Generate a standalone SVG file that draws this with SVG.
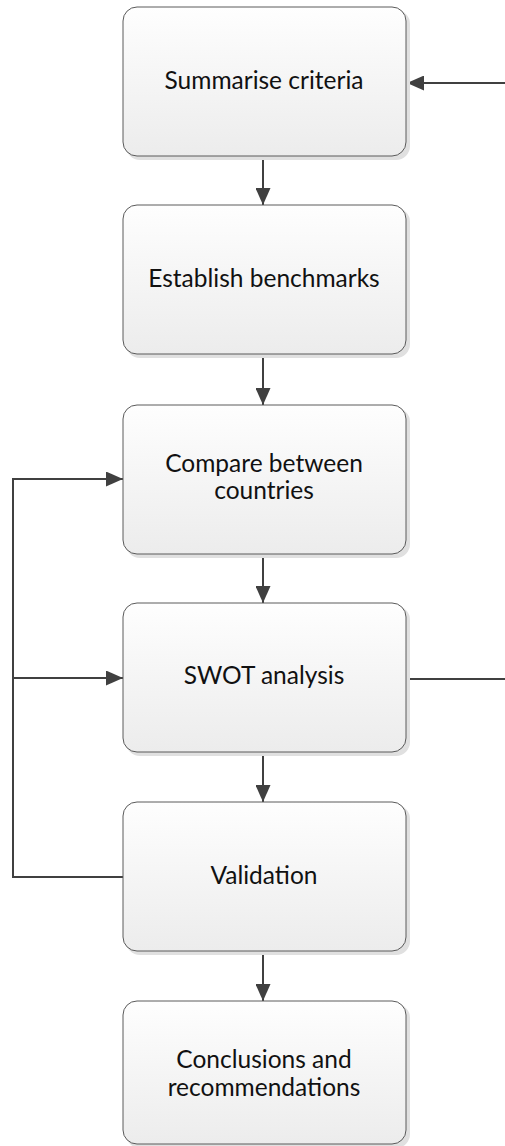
<svg xmlns="http://www.w3.org/2000/svg" width="505" height="1146" viewBox="0 0 505 1146">
  <style>
    .shadow { fill: #e0e0e0; }
    .box { fill: url(#boxFill); stroke: #5a5a5a; stroke-width: 1; }
    .label { font-family: Lato, "Open Sans", "Liberation Sans", sans-serif; font-size: 24.5px; fill: #111; text-anchor: middle; }
    .conn { fill: none; stroke: #404040; stroke-width: 2; }
  </style>
  <defs>
    <linearGradient id="boxFill" x1="0" y1="0" x2="0" y2="1">
      <stop offset="0" stop-color="#fefefe"/>
      <stop offset="1" stop-color="#ececec"/>
    </linearGradient>
    <marker id="arrow" markerUnits="userSpaceOnUse" markerWidth="17" markerHeight="15" refX="17" refY="7.5" orient="auto">
      <path d="M0,0 L17,7.5 L0,15 Z" fill="#404040"/>
    </marker>
  </defs>
  <rect width="505" height="1146" fill="#ffffff"/>

  <g id="connectors">
    <path class="conn" d="M505,83 L407,83" marker-end="url(#arrow)"/>
    <path class="conn" d="M263,156 L263,205" marker-end="url(#arrow)"/>
    <path class="conn" d="M263,354 L263,405" marker-end="url(#arrow)"/>
    <path class="conn" d="M263,554 L263,603" marker-end="url(#arrow)"/>
    <path class="conn" d="M263,752 L263,802" marker-end="url(#arrow)"/>
    <path class="conn" d="M263,951 L263,1001" marker-end="url(#arrow)"/>
    <path class="conn" d="M123,877 L13,877 L13,479 L123,479" marker-end="url(#arrow)"/>
    <path class="conn" d="M13,678 L123,678" marker-end="url(#arrow)"/>
    <path class="conn" d="M407,679 L505,679"/>
  </g>

  <g id="summarise">
    <rect class="shadow" x="126" y="10" width="284" height="150" rx="14"/>
    <rect class="box" x="123" y="7" width="283" height="149" rx="14"/>
    <text class="label" x="264" y="89">Summarise criteria</text>
  </g>
  <g id="benchmarks">
    <rect class="shadow" x="126" y="208" width="284" height="150" rx="14"/>
    <rect class="box" x="123" y="205" width="283" height="149" rx="14"/>
    <text class="label" x="264" y="287">Establish benchmarks</text>
  </g>
  <g id="compare">
    <rect class="shadow" x="126" y="408" width="284" height="150" rx="14"/>
    <rect class="box" x="123" y="405" width="283" height="149" rx="14"/>
    <text class="label" x="264" y="472">Compare between</text>
    <text class="label" x="264" y="499">countries</text>
  </g>
  <g id="swot">
    <rect class="shadow" x="126" y="606" width="284" height="150" rx="14"/>
    <rect class="box" x="123" y="603" width="283" height="149" rx="14"/>
    <text class="label" x="264" y="684">SWOT analysis</text>
  </g>
  <g id="validation">
    <rect class="shadow" x="126" y="805" width="284" height="150" rx="14"/>
    <rect class="box" x="123" y="802" width="283" height="149" rx="14"/>
    <text class="label" x="264" y="884">Validation</text>
  </g>
  <g id="conclusions">
    <rect class="shadow" x="126" y="1004" width="284" height="144" rx="14"/>
    <rect class="box" x="123" y="1001" width="283" height="143" rx="14"/>
    <text class="label" x="264" y="1068">Conclusions and</text>
    <text class="label" x="264" y="1096">recommendations</text>
  </g>
</svg>
